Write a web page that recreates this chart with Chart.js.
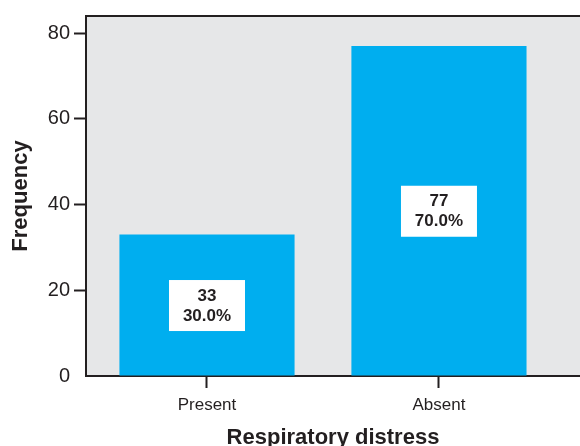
<!DOCTYPE html>
<html>
<head>
<meta charset="utf-8">
<script src="https://cdn.jsdelivr.net/npm/chart.js@4"></script>
<style>
  body { margin: 0; background: #fff; overflow: hidden; }
  #wrap { width: 580px; height: 446px; }
</style>
</head>
<body>
<div id="wrap"><canvas id="distressChart"></canvas></div>
<script>
// Respiratory distress - frequency bars
const categories = ["Present", "Absent"];
const counts = [33, 77];
const yTicks = [0, 20, 40, 60, 80];

const total = counts.reduce((a, b) => a + b, 0);
const percents = counts.map((c) => (c / total * 100).toFixed(1) + "%");

const ink = "#231F20";
const fontFamily = "'Liberation Sans', Arial, Helvetica, sans-serif";

// grey plot background + top frame line
const plotFrame = {
  id: "plotFrame",
  beforeDraw(chart) {
    const { ctx, chartArea } = chart;
    ctx.save();
    ctx.fillStyle = "#E6E7E8";
    ctx.fillRect(chartArea.left, chartArea.top, chartArea.right - chartArea.left, chartArea.bottom - chartArea.top);
    ctx.restore();
  },
  afterDraw(chart) {
    const { ctx, chartArea } = chart;
    ctx.save();
    ctx.strokeStyle = ink;
    ctx.lineWidth = 2;
    ctx.beginPath();
    ctx.moveTo(chartArea.left - 1, chartArea.top);
    ctx.lineTo(chartArea.right, chartArea.top);
    ctx.stroke();
    ctx.restore();
  },
};

// white boxes with count and percent in the middle of each bar
const barBoxes = {
  id: "barBoxes",
  afterDatasetsDraw(chart) {
    const { ctx } = chart;
    const meta = chart.getDatasetMeta(0);
    ctx.save();
    meta.data.forEach((bar, i) => {
      const cx = bar.x;
      const cy = (bar.y + bar.base) / 2;
      ctx.fillStyle = "#FFFFFF";
      ctx.fillRect(cx - 38, cy - 25, 76, 51);
      ctx.fillStyle = ink;
      ctx.font = "bold 17px " + fontFamily;
      ctx.textAlign = "center";
      ctx.textBaseline = "middle";
      ctx.fillText(String(counts[i]), cx, cy - 9);
      ctx.fillText(percents[i], cx, cy + 11);
    });
    ctx.restore();
  },
};

new Chart(document.getElementById("distressChart"), {
  type: "bar",
  data: {
    datasets: [
      {
        label: "Frequency",
        data: counts.map((c, i) => ({ x: i, y: c })),
        backgroundColor: "#00AEEF",
        borderWidth: 0,
        categoryPercentage: 1,
        barPercentage: 0.755,
      },
    ],
  },
  options: {
    responsive: true,
    maintainAspectRatio: false,
    animation: false,
    layout: { padding: { top: 14, left: 0, right: 0, bottom: 0 } },
    plugins: {
      legend: { display: false },
      tooltip: { enabled: false },
    },
    scales: {
      x: {
        type: "linear",
        offset: false,
        min: -0.5216,
        max: 1.608,
        afterBuildTicks: (scale) => {
          scale.ticks = categories.map((_, i) => ({ value: i }));
        },
        afterFit: (scale) => { scale.height = 70; },
        ticks: {
          callback: (v) => categories[v],
          color: ink,
          font: { family: fontFamily, size: 17 },
          padding: 7,
          maxRotation: 0,
        },
        grid: {
          offset: false,
          drawOnChartArea: false,
          drawTicks: true,
          tickLength: 12,
          tickWidth: 2,
          tickColor: ink,
        },
        border: { color: ink, width: 2 },
        title: {
          display: true,
          text: "Respiratory distress",
          color: ink,
          font: { family: fontFamily, size: 22, weight: "bold", lineHeight: 0.75 },
          padding: { top: 0, bottom: 0 },
        },
      },
      y: {
        min: 0,
        max: 84,
        afterBuildTicks: (scale) => {
          scale.ticks = yTicks.map((v) => ({ value: v }));
        },
        afterFit: (scale) => { scale.width = 86; },
        ticks: {
          color: ink,
          font: { family: fontFamily, size: 20 },
          padding: 4,
        },
        grid: {
          drawOnChartArea: false,
          drawTicks: true,
          tickLength: 12,
          tickWidth: 2,
          tickColor: (c) => (c.tick && c.tick.value === 0 ? "rgba(0,0,0,0)" : ink),
        },
        border: { color: ink, width: 2 },
        title: {
          display: true,
          text: "Frequency",
          color: ink,
          font: { family: fontFamily, size: 22, weight: "bold", lineHeight: 1 },
          padding: { top: 10, bottom: 0 },
        },
      },
    },
  },
  plugins: [plotFrame, barBoxes],
});
</script>
</body>
</html>
